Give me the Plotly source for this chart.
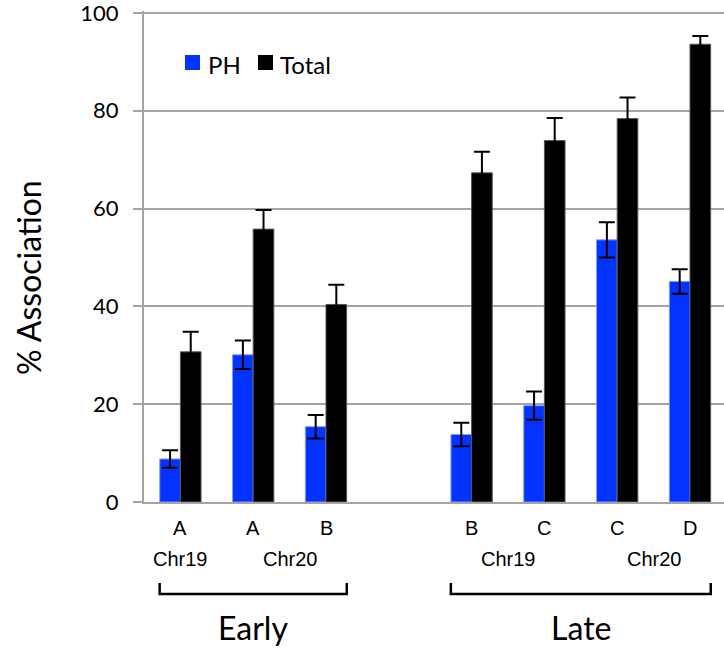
import plotly.graph_objects as go

# ---------------- data ----------------
slot_pos = [0, 1, 2, 4, 5, 6, 7]           # category slots (slot 3 left empty between stages)
letters = ["A", "A", "B", "B", "C", "C", "D"]
chromosomes = ["Chr19", "Chr20", "Chr20", "Chr19", "Chr19", "Chr20", "Chr20"]
stages = ["Early", "Early", "Early", "Late", "Late", "Late", "Late"]

ph_values = [8.8, 30.1, 15.4, 13.8, 19.7, 53.6, 45.1]
ph_errors = [1.8, 2.9, 2.4, 2.4, 2.9, 3.6, 2.5]
total_values = [30.7, 55.8, 40.4, 67.3, 73.9, 78.4, 93.6]
total_errors = [4.1, 3.9, 4.0, 4.3, 4.6, 4.3, 1.7]

y_ticks = [0, 20, 40, 60, 80, 100]
series_names = ["PH", "Total"]

# ---------------- layout constants ----------------
W, H = 724, 652
ML, MR, MT, MB = 144, 0, 11, 150
PW, PH_ = W - ML - MR, H - MT - MB
XR = [-0.5, 7.467]
YR = [0, 100.4]
BLUE = "#0433FF"
GRID = "#a4a4a4"
CAL = "Lato, 'Open Sans', sans-serif"
ARIAL = "'Liberation Sans', Arial, sans-serif"


def xp(x):  # data x -> paper
    return (x - XR[0]) / (XR[1] - XR[0])


def yp_px(py):  # pixel y -> paper
    return (H - MB - py) / PH_


def xp_px(px):
    return (px - ML) / PW


fig = go.Figure()
fig.add_trace(go.Bar(
    x=slot_pos, y=ph_values, name=series_names[0],
    marker=dict(color=BLUE, line=dict(color="#7f9bff", width=1)),
    error_y=dict(type="data", array=ph_errors, visible=True,
                 color="black", thickness=2, width=8),
    showlegend=False,
))
fig.add_trace(go.Bar(
    x=slot_pos, y=total_values, name=series_names[1],
    marker=dict(color="black", line=dict(color="#555555", width=1)),
    error_y=dict(type="data", array=total_errors, visible=True,
                 color="black", thickness=2, width=8),
    showlegend=False,
))

annotations = []
shapes = []

# letters row
for x, t in zip(slot_pos, letters):
    annotations.append(dict(x=xp(x), y=yp_px(528), xref="paper", yref="paper",
                            text=t, showarrow=False, xanchor="center", yanchor="middle",
                            font=dict(family=ARIAL, size=20, color="black")))

# chromosome row: centre of each consecutive run within a stage
runs = []
for i, (c, s) in enumerate(zip(chromosomes, stages)):
    if runs and runs[-1][0] == c and runs[-1][1] == s:
        runs[-1][2].append(slot_pos[i])
    else:
        runs.append([c, s, [slot_pos[i]]])
for c, s, xs in runs:
    annotations.append(dict(x=xp(sum(xs) / len(xs)), y=yp_px(559), xref="paper", yref="paper",
                            text=c, showarrow=False, xanchor="center", yanchor="middle",
                            font=dict(family=ARIAL, size=20, color="black")))

# stage brackets and labels
for st in ["Early", "Late"]:
    xs = [p for p, s in zip(slot_pos, stages) if s == st]
    x0, x1 = xp(min(xs) - 0.285), xp(max(xs) + 0.285)
    ytop, ybot = yp_px(583), yp_px(594)
    shapes.append(dict(type="path", xref="paper", yref="paper",
                       path=f"M{x0},{ytop} L{x0},{ybot} L{x1},{ybot} L{x1},{ytop}",
                       line=dict(color="black", width=2.5)))
    annotations.append(dict(x=(x0 + x1) / 2, y=yp_px(627), xref="paper", yref="paper",
                            text=st, showarrow=False, xanchor="center", yanchor="middle",
                            font=dict(family=CAL, size=32, color="black")))

# y-axis title
annotations.append(dict(x=xp_px(28), y=yp_px(278), xref="paper", yref="paper",
                        text="% Association", textangle=-90, showarrow=False,
                        xanchor="center", yanchor="middle",
                        font=dict(family=CAL, size=32, color="black")))

# manual legend
legend_items = [(series_names[0], BLUE, 185, 206), (series_names[1], "black", 258, 278)]
for name, col, sx, tx in legend_items:
    shapes.append(dict(type="rect", xref="paper", yref="paper",
                       x0=xp_px(sx), x1=xp_px(sx + 15), y0=yp_px(55), y1=yp_px(70),
                       fillcolor=col, line=dict(width=0)))
    annotations.append(dict(x=xp_px(tx), y=yp_px(64), xref="paper", yref="paper",
                            text=name, showarrow=False, xanchor="left", yanchor="middle",
                            font=dict(family=CAL, size=24, color="black")))

fig.update_layout(
    width=W, height=H,
    margin=dict(l=ML, r=MR, t=MT, b=MB, pad=0),
    paper_bgcolor="white", plot_bgcolor="white",
    barmode="group", bargap=0.433, bargroupgap=0,
    showlegend=False,
    annotations=annotations, shapes=shapes,
    xaxis=dict(range=XR, showticklabels=False, ticks="", showgrid=False, zeroline=False,
               showline=True, linecolor=GRID, linewidth=2),
    yaxis=dict(range=YR, tickvals=y_ticks, ticks="outside", ticklen=9, tickwidth=2,
               tickcolor=GRID, showgrid=True, gridcolor=GRID, gridwidth=2,
               zeroline=False, showline=True, linecolor=GRID, linewidth=2,
               ticklabelstandoff=10, ticklabeloverflow="allow",
               tickfont=dict(family=CAL, size=22, color="black")),
)

fig.write_html(
    "out.html",
    config={"displayModeBar": False},
    post_script="document.body.style.margin='0';document.body.style.overflow='hidden';",
)
